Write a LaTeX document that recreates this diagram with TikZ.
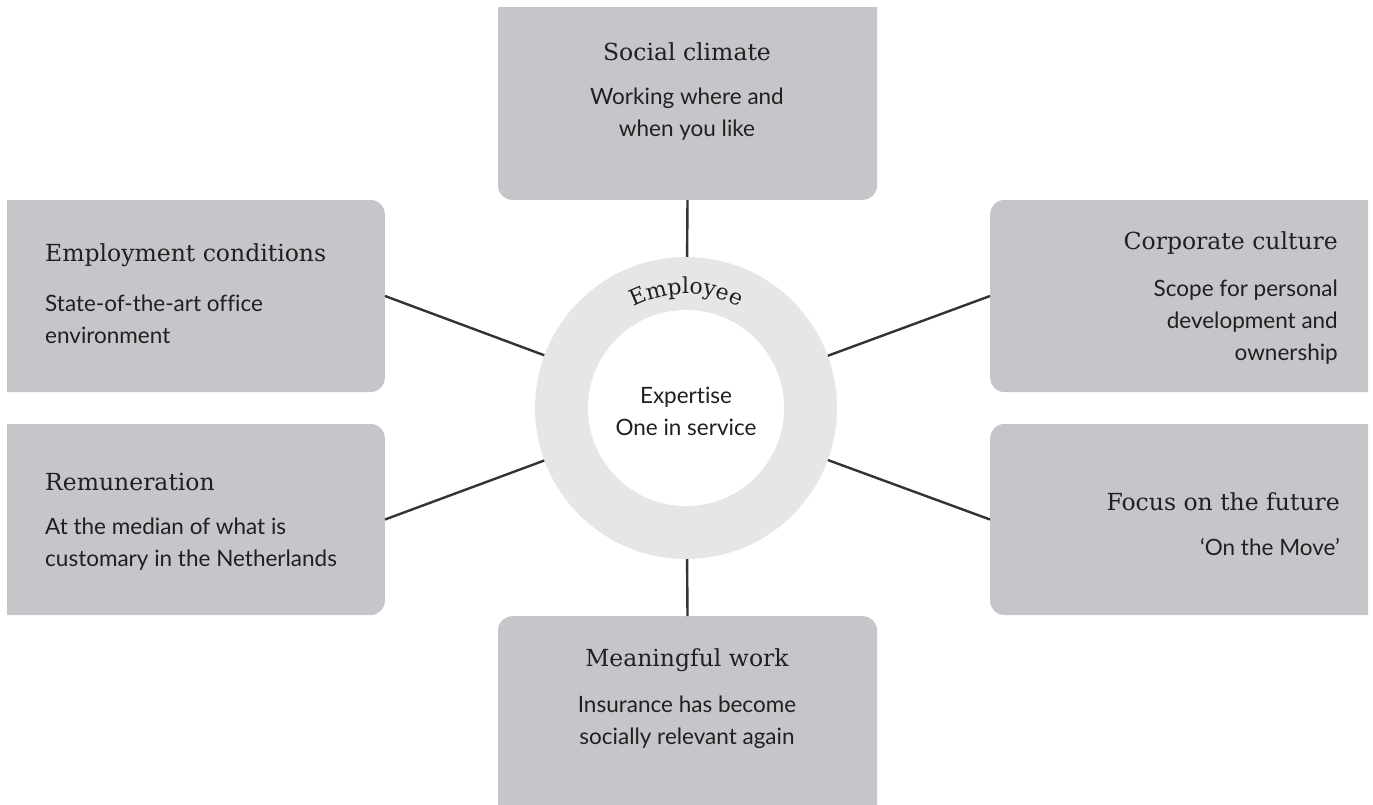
\documentclass[tikz,border=0pt]{standalone}
\usepackage{fontspec}
\usepackage{tikz}
\usetikzlibrary{positioning,decorations.text}
\newfontfamily\headfont{DejaVu Serif}
\newfontfamily\bodyfont[Ligatures=NoCommon]{Lato}
\definecolor{boxgray}{HTML}{C5C6CA}
\definecolor{ringgray}{HTML}{E5E6E8}
\definecolor{linegray}{HTML}{333333}
\definecolor{textgray}{HTML}{231F20}
\tikzset{
	box/.style={rectangle, rounded corners=14pt, fill=boxgray, inner sep=0pt},
	link/.style={draw=linegray, line width=2.4pt},
	head/.style={font=\headfont\fontsize{23.5}{28}\selectfont, text=textgray, inner sep=0pt},
	body/.style={font=\bodyfont\fontsize{22.5}{32}\selectfont, text=textgray, inner sep=0pt}
}
\begin{document}
\begin{tikzpicture}[x=1pt, y=1pt]
		\useasboundingbox (0,0) rectangle (1373,-804);
		\begin{scope}
			\clip (7,-7) rectangle (1368,-804);
			\node[box, minimum width=379pt, minimum height=260pt, anchor=south] (social) at (687.5,-200) {};
			\node[box, minimum width=445pt, minimum height=192pt, anchor=east] (empcond) at (385,-296) {};
			\node[box, minimum width=445pt, minimum height=191pt, anchor=east] (remun) at (385,-519.5) {};
			\node[box, minimum width=445pt, minimum height=192pt, anchor=west] (corp) at (990,-296) {};
			\node[box, minimum width=445pt, minimum height=191pt, anchor=west] (future) at (990,-519.5) {};
			\node[box, minimum width=379pt, minimum height=260pt, anchor=north] (meaning) at (687.5,-616) {};
		\end{scope}
		\node[circle, fill=ringgray, minimum size=302pt, inner sep=0pt] (ring) at (686,-408) {};
		\node[circle, fill=white, minimum size=196pt, inner sep=0pt] (core) at (686,-408) {};
		\node[body, align=center] (expert) at (686,-411) {Expertise\\One in service};
		\path[decorate, decoration={text along path, text align=center,
			text={|\headfont\fontsize{22}{26}\selectfont\color{textgray}|Employee}}]
			(686,-408) ++(155:114) arc[start angle=155, end angle=25, radius=114];
		\draw[link] (social.south) -- (ring);
		\draw[link] (meaning.north) -- (ring);
		\draw[link] (empcond.east) -- (ring);
		\draw[link] (remun.east) -- (ring);
		\draw[link] (corp.west) -- (ring);
		\draw[link] (future.west) -- (ring);
		\node[head] (socialhead) at (687,-52) {Social climate};
		\node[body, align=center] (socialtext) at (687,-114) {Working where and\\when you like};
		\node[head, anchor=west] (emphead) at (45,-255) {Employment conditions};
		\node[body, align=left, anchor=west] (emptext) at (45,-319) {State-of-the-art office\\environment};
		\node[head, anchor=west] (remunhead) at (45,-482) {Remuneration};
		\node[body, align=left, anchor=west] (remuntext) at (45,-544) {At the median of what is\\customary in the Netherlands};
		\node[head, anchor=east] (corphead) at (1338,-243) {Corporate culture};
		\node[body, align=right, anchor=east] (corptext) at (1338,-322) {Scope for personal\\development and\\ownership};
		\node[head, anchor=east] (futurehead) at (1340,-502) {Focus on the future};
		\node[body, anchor=east] (futuretext) at (1340,-547) {‘On the Move’};
		\node[head] (meanhead) at (687,-660) {Meaningful work};
		\node[body, align=center] (meantext) at (687,-722) {Insurance has become\\socially relevant again};
	\end{tikzpicture}
\end{document}
